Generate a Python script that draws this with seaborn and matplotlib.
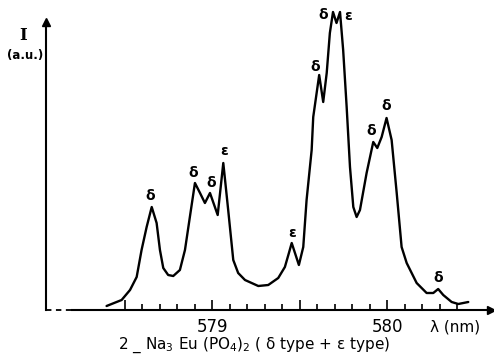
import matplotlib
matplotlib.use('Agg')
import matplotlib.pyplot as plt
import seaborn as sns
import pandas as pd

# emission spectrum (wavelength in nm, intensity in a.u.)
wavelength = [578.395, 578.481, 578.529, 578.567, 578.595, 578.624, 578.653, 578.681,
              578.700, 578.719, 578.747, 578.776, 578.814, 578.843, 578.871, 578.900,
              578.929, 578.957, 578.986, 579.030, 579.062, 579.090, 579.119, 579.147,
              579.186, 579.262, 579.319, 579.376, 579.414, 579.437, 579.453, 579.494,
              579.519, 579.538, 579.567, 579.576, 579.610, 579.633, 579.653, 579.671,
              579.689, 579.709, 579.729, 579.747, 579.767, 579.786, 579.805, 579.824,
              579.843, 579.881, 579.919, 579.942, 579.967, 579.995, 580.024, 580.053,
              580.081, 580.110, 580.167, 580.224, 580.262, 580.290, 580.319, 580.367,
              580.405, 580.462]
intensity = [4, 10, 20, 33, 60, 83, 103, 87,
             60, 42, 35, 34, 40, 60, 93, 127,
             117, 107, 117, 95, 147, 100, 50, 37,
             30, 24, 25, 32, 43, 57, 67, 45,
             63, 110, 160, 193, 235, 208, 237, 277,
             298, 287, 298, 260, 203, 143, 103, 93,
             100, 137, 168, 162, 173, 192, 170, 117,
             63, 47, 27, 17, 17, 21, 15, 8,
             6, 8]

# labelled lines
peak_wl = [578.653, 578.900, 578.986, 579.062, 579.453, 579.610,
           579.689, 579.729, 579.919, 579.995, 580.290]
peak_int = [103, 127, 117, 147, 67, 235, 298, 298, 168, 192, 21]
peak_label = ['δ', 'δ', 'δ', 'ε', 'ε', 'δ', 'δ', 'ε', 'δ', 'δ', 'δ']

major_ticks = [578.5, 579, 579.5, 580]
major_labels = ['', '579', '', '580']
minor_ticks = [578.6, 578.7, 578.8, 578.9, 579.1, 579.2, 579.3, 579.4,
               579.6, 579.7, 579.8, 579.9, 580.1, 580.2, 580.3, 580.4]

sns.set_style('white')
plt.rcParams['font.family'] = ['DejaVu Sans']
plt.rcParams['text.color'] = 'black'
plt.rcParams['xtick.color'] = 'black'

fig = plt.figure(figsize=(4.94, 3.55), dpi=100)
ax = fig.add_axes([0, 0, 1, 1])

df = pd.DataFrame({'wl': wavelength, 'I': intensity})
sns.lineplot(data=df, x='wl', y='I', estimator=None, sort=False,
             color='black', lw=1.7, ax=ax)
ax.lines[0].set_solid_joinstyle('round')

ax.set_xlim(577.786, 580.609)
ax.set_ylim(-45, 310)

# hand-drawn style axes
for s in ['top', 'right']:
    ax.spines[s].set_visible(False)
ax.spines['bottom'].set_position(('data', 0))
ax.spines['bottom'].set_bounds(578.197, 580.59)
ax.spines['left'].set_position(('data', 578.049))
ax.spines['left'].set_bounds(0, 288)
for s in ['bottom', 'left']:
    ax.spines[s].set_color('black')
    ax.spines[s].set_linewidth(1.5)
ax.plot([578.049, 578.197], [0, 0], ls=(0, (3, 2.5)), color='black', lw=1.3)
ax.plot(580.59, 0, marker='>', ms=6, color='black', clip_on=False)
ax.plot(578.049, 288, marker='^', ms=6, color='black', clip_on=False)

ax.set_yticks([])
ax.set_xticks(major_ticks, major_labels)
ax.set_xticks(minor_ticks, minor=True)
ax.tick_params(axis='x', which='both', bottom=True, colors='black')
ax.tick_params(axis='x', which='major', direction='in', length=7, width=1.2,
               pad=6, labelsize=12)
ax.tick_params(axis='x', which='minor', direction='in', length=4.5, width=1.2)
ax.set_xlabel('')
ax.set_ylabel('')

label_offsets = [(-2, 11), (-2, 10), (1, 10), (1, 12), (0, 10), (-4, 8),
                 (-10, -3), (8, -4), (-2, 11), (0, 12), (0, 11)]
for wl, y, lab, off in zip(peak_wl, peak_int, peak_label, label_offsets):
    ax.annotate(lab, (wl, y), xytext=off, textcoords='offset pixels',
                ha='center', va='center', fontsize=10, fontweight='bold')

fig.text(0.047, 0.901, 'I', ha='center', va='center', fontsize=12,
         fontweight='bold', family='DejaVu Serif')
fig.text(0.050, 0.845, '(a.u.)', ha='center', va='center', fontsize=8.5,
         fontweight='bold')
fig.text(0.922, 0.079, 'λ (nm)', ha='center', va='center', fontsize=11)
fig.text(0.514, 0.028, '2 _ Na$_3$ Eu (PO$_4$)$_2$ ( δ type + ε type)',
         ha='center', va='center', fontsize=11)

plt.savefig('out.png', dpi=100)
plt.close()
